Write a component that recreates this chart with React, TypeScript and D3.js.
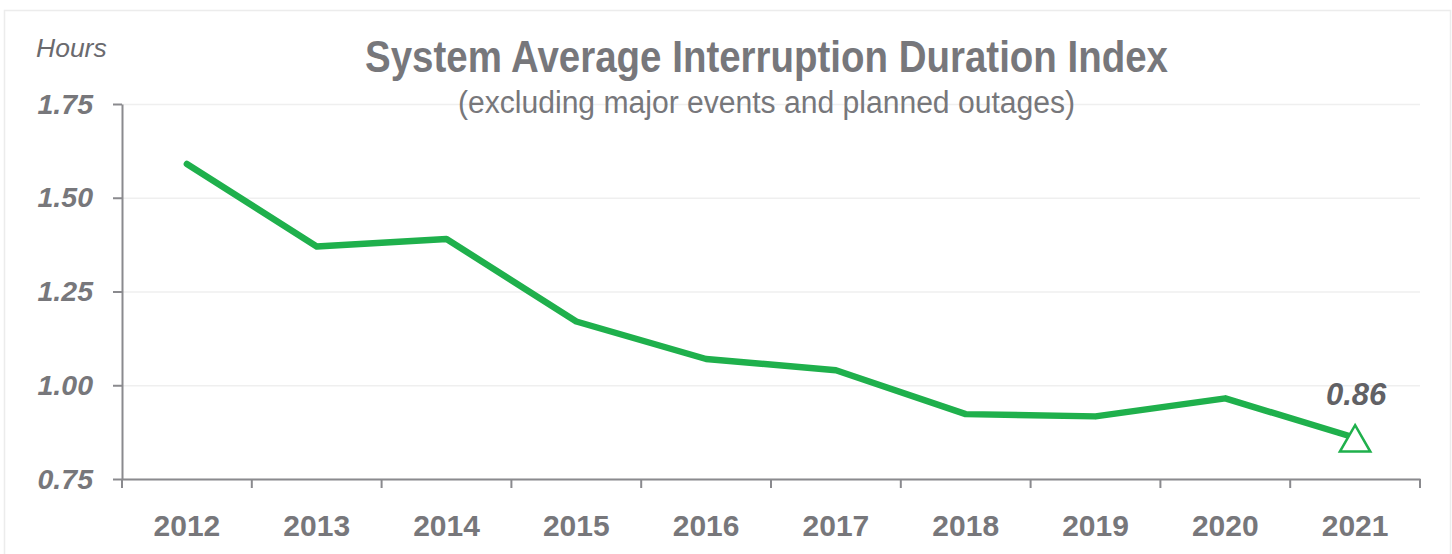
import { useEffect, useRef } from "react";
import * as d3 from "d3";

// data
const years = ["2012", "2013", "2014", "2015", "2016", "2017", "2018", "2019", "2020", "2021"];
const saidi = [1.59, 1.37, 1.39, 1.17, 1.07, 1.04, 0.923, 0.917, 0.965, 0.86];
const yTicks = [0.75, 1.0, 1.25, 1.5, 1.75];

const title = "System Average Interruption Duration Index";
const subtitle = "(excluding major events and planned outages)";
const unitLabel = "Hours";
const lastLabel = "0.86";

const W = 1452;
const H = 554;
const GRAY = "#77777b";
const GREEN = "#1fb04c";

export default function App() {
  const ref = useRef<SVGSVGElement>(null);

  useEffect(() => {
    if (!ref.current) return;
    const svg = d3.select(ref.current);
    svg.selectAll("*").remove();

    const m = { top: 104, right: 32, bottom: 75, left: 122 };
    const w = W - m.left - m.right;
    const h = H - m.top - m.bottom;

    // outer frame
    svg
      .append("rect")
      .attr("x", 4.5)
      .attr("y", 10.5)
      .attr("width", W - 6)
      .attr("height", H)
      .attr("fill", "#fff")
      .attr("stroke", "#ececec")
      .attr("stroke-width", 1.5);

    const x = d3.scaleBand<string>().domain(years).range([0, w]);
    const y = d3.scaleLinear().domain([0.75, 1.75]).range([h, 0]);

    const g = svg.append("g").attr("transform", `translate(${m.left},${m.top})`);

    // grid
    g.append("g")
      .call(
        d3
          .axisLeft(y)
          .tickValues(yTicks)
          .tickSize(-w)
          .tickFormat(() => ""),
      )
      .call((a) => {
        a.select(".domain").remove();
        a.selectAll("line").attr("stroke", "#efefef").attr("stroke-width", 1.5);
      });

    // titles
    svg
      .append("text")
      .attr("x", 365)
      .attr("y", 72)
      .attr("textLength", 803)
      .attr("lengthAdjust", "spacingAndGlyphs")
      .attr("font-family", "'Liberation Sans Narrow', 'Arial Narrow', 'Liberation Sans', Arial, sans-serif")
      .attr("font-weight", "bold")
      .attr("font-size", 44)
      .attr("fill", GRAY)
      .text(title);

    svg
      .append("text")
      .attr("x", 458)
      .attr("y", 113)
      .attr("textLength", 617)
      .attr("lengthAdjust", "spacingAndGlyphs")
      .attr("font-family", "'Liberation Sans Narrow', 'Arial Narrow', 'Liberation Sans', Arial, sans-serif")
      .attr("font-size", 31)
      .attr("fill", GRAY)
      .text(subtitle);

    svg
      .append("text")
      .attr("x", 36)
      .attr("y", 57)
      .attr("font-family", "'Liberation Sans', Arial, sans-serif")
      .attr("font-style", "italic")
      .attr("font-size", 26.5)
      .attr("fill", "#6a6a6e")
      .text(unitLabel);

    // axes
    g.append("g")
      .call(
        d3
          .axisLeft(y)
          .tickValues(yTicks)
          .tickSize(9)
          .tickSizeOuter(0)
          .tickPadding(20)
          .tickFormat(d3.format(".2f")),
      )
      .call((a) => {
        a.select(".domain").attr("stroke", "#8a8a8e").attr("stroke-width", 2);
        a.selectAll("line").attr("stroke", "#8a8a8e").attr("stroke-width", 2);
        a.selectAll("text")
          .attr("font-family", "'Liberation Sans', Arial, sans-serif")
          .attr("font-weight", "bold")
          .attr("font-style", "italic")
          .attr("font-size", 28.5)
          .attr("fill", GRAY);
      });

    const xAxis = g
      .append("g")
      .attr("transform", `translate(0,${h})`)
      .call(d3.axisBottom(x).tickSize(0).tickPadding(36))
      .call((a) => {
        a.select(".domain").attr("stroke", "#8a8a8e").attr("stroke-width", 2);
        a.selectAll("text")
          .attr("font-family", "'Liberation Sans', Arial, sans-serif")
          .attr("font-weight", "bold")
          .attr("font-size", 30)
          .attr("fill", GRAY);
      });

    // category boundary ticks
    const edges = [...years.map((d) => x(d) ?? 0), w];
    xAxis
      .selectAll("line.edge")
      .data(edges)
      .join("line")
      .attr("class", "edge")
      .attr("x1", (d) => d)
      .attr("x2", (d) => d)
      .attr("y1", 0)
      .attr("y2", 9)
      .attr("stroke", "#8a8a8e")
      .attr("stroke-width", 2);

    const cx = (d: string) => (x(d) ?? 0) + x.bandwidth() / 2;

    // line
    const line = d3
      .line<number>()
      .x((_, i) => cx(years[i]))
      .y((d) => y(d));

    g.append("path")
      .datum(saidi)
      .attr("d", line)
      .attr("fill", "none")
      .attr("stroke", GREEN)
      .attr("stroke-width", 6.5)
      .attr("stroke-linejoin", "round")
      .attr("stroke-linecap", "round");

    // last point marker
    const last = saidi.length - 1;
    g.append("path")
      .attr("d", d3.symbol(d3.symbolTriangle, 400)())
      .attr("transform", `translate(${cx(years[last])},${y(saidi[last]) + 5})`)
      .attr("fill", "#fff")
      .attr("stroke", GREEN)
      .attr("stroke-width", 2.5);

    g.append("text")
      .attr("x", cx(years[last]) + 1)
      .attr("y", y(saidi[last]) - 33)
      .attr("text-anchor", "middle")
      .attr("font-family", "'Liberation Sans', Arial, sans-serif")
      .attr("font-weight", "bold")
      .attr("font-style", "italic")
      .attr("font-size", 31)
      .attr("fill", "#616165")
      .text(lastLabel);
  }, []);

  return (
    <svg
      ref={ref}
      width={W}
      height={H}
      style={{ position: "absolute", left: 0, top: 0, background: "#fff" }}
    />
  );
}
